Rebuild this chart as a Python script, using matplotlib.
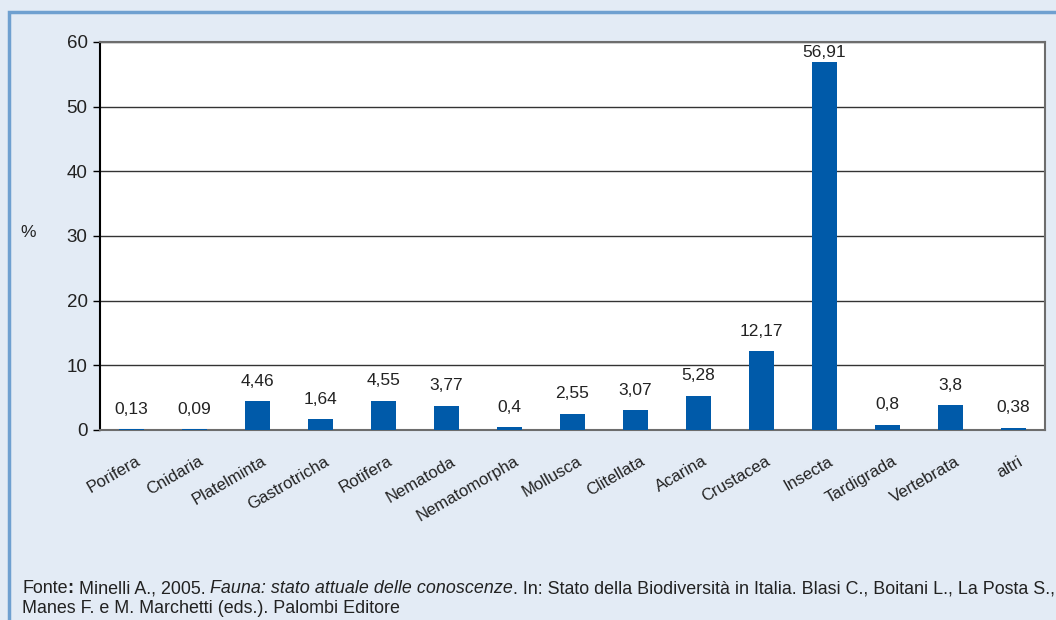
import matplotlib
matplotlib.use("Agg")
import matplotlib.pyplot as plt
import matplotlib.transforms as mtransforms
from matplotlib.patches import Rectangle
from matplotlib.text import Annotation

plt.rcParams['font.family'] = ['Liberation Sans', 'DejaVu Sans']

# percentuale di specie per gruppo
gruppi = ['Porifera', 'Cnidaria', 'Platelminta', 'Gastrotricha', 'Rotifera', 'Nematoda',
          'Nematomorpha', 'Mollusca', 'Clitellata', 'Acarina', 'Crustacea', 'Insecta',
          'Tardigrada', 'Vertebrata', 'altri']
percentuali = [0.13, 0.09, 4.46, 1.64, 4.55, 3.77, 0.4, 2.55, 3.07, 5.28, 12.17, 56.91,
               0.8, 3.8, 0.38]
yticks = [0, 10, 20, 30, 40, 50, 60]

sfondo = '#e3ebf5'
blu = '#005aa9'
testo_col = '#222222'

fig = plt.figure(figsize=(10.56, 6.2), dpi=100, facecolor=sfondo)
ax = fig.add_axes([100/1056, 1 - 430/620, 945/1056, 388/620])
ax.set_facecolor('white')

x = list(range(len(gruppi)))
ax.bar(x, percentuali, width=0.4, color=blu, zorder=3)

ax.set_xlim(-0.5, len(gruppi) - 0.5)
ax.set_ylim(0, 60)
ax.set_yticks(yticks)
ax.set_yticklabels([str(v) for v in yticks], fontsize=13.5, color=testo_col)
ax.tick_params(axis='y', length=5, width=1, direction='out', pad=4)
ax.tick_params(axis='x', length=0, pad=17)
ax.set_xticks(x)
ax.set_xticklabels(gruppi, fontsize=12, rotation=30, ha='right', va='top',
                   rotation_mode='anchor', color=testo_col)
sposta = mtransforms.ScaledTranslation(4/100, 0, fig.dpi_scale_trans)
for lab in ax.get_xticklabels():
    lab.set_transform(lab.get_transform() + sposta)

ax.grid(axis='y', color='#333333', linewidth=1, zorder=1)
for s in ['top', 'right', 'bottom']:
    ax.spines[s].set_color('#6d6d6d')
    ax.spines[s].set_linewidth(1.5)
ax.spines['left'].set_color('black')
ax.spines['left'].set_linewidth(1.5)

# etichette dei valori sopra le barre
for xi, v in zip(x, percentuali):
    testo = str(v).replace('.', ',')
    off = 1.5 if v > 50 else 9
    ax.annotate(testo, (xi, v), xytext=(0, off), textcoords='offset points',
                ha='center', va='bottom', fontsize=12.5, color=testo_col, zorder=4)

fig.text(28/1056, 1 - 232/620, '%', fontsize=12.5, ha='center', va='center', color=testo_col)

# cornice blu in alto e a sinistra
fig.patches.append(Rectangle((9/1056, -0.1), 1.2, 1.1 - 12/620, transform=fig.transFigure,
                             fill=False, edgecolor='#6fa0d0', linewidth=2.5))

# fonte: la prima riga deve stare nella larghezza della figura
riga1 = [('Fonte', 'normal', 'normal'),
         (':', 'bold', 'normal'),
         (' Minelli A., 2005. ', 'normal', 'normal'),
         ('Fauna: stato attuale delle conoscenze', 'normal', 'italic'),
         ('. In: Stato della Biodiversità in Italia. Blasi C., Boitani L., La Posta S.,',
          'normal', 'normal')]
riga2 = 'Manes F. e M. Marchetti (eds.). Palombi Editore'


def scrivi_fonte(fs):
    pezzi = []
    prev = fig.text(22/1056, 1 - 597/620, riga1[0][0], fontsize=fs, va='bottom',
                    ha='left', color=testo_col)
    pezzi.append(prev)
    for s, w, st in riga1[1:]:
        prev = fig.add_artist(Annotation(s, xy=(1, 0), xycoords=prev, xytext=(0, 0),
                                         textcoords='offset points', fontsize=fs,
                                         fontweight=w, fontstyle=st, va='bottom',
                                         ha='left', color=testo_col,
                                         annotation_clip=False))
        pezzi.append(prev)
    pezzi.append(fig.text(22/1056, 1 - 617/620, riga2, fontsize=fs, va='bottom',
                          ha='left', color=testo_col))
    return pezzi


fs = 13.5
pezzi = scrivi_fonte(fs)
fig.canvas.draw()
destra = pezzi[-2].get_window_extent().x1
if destra > 1050:
    for p in pezzi:
        p.remove()
    fs = fs * (1050 - 22) / (destra - 22)
    scrivi_fonte(fs)

fig.savefig('out.png', dpi=100, facecolor=sfondo)
